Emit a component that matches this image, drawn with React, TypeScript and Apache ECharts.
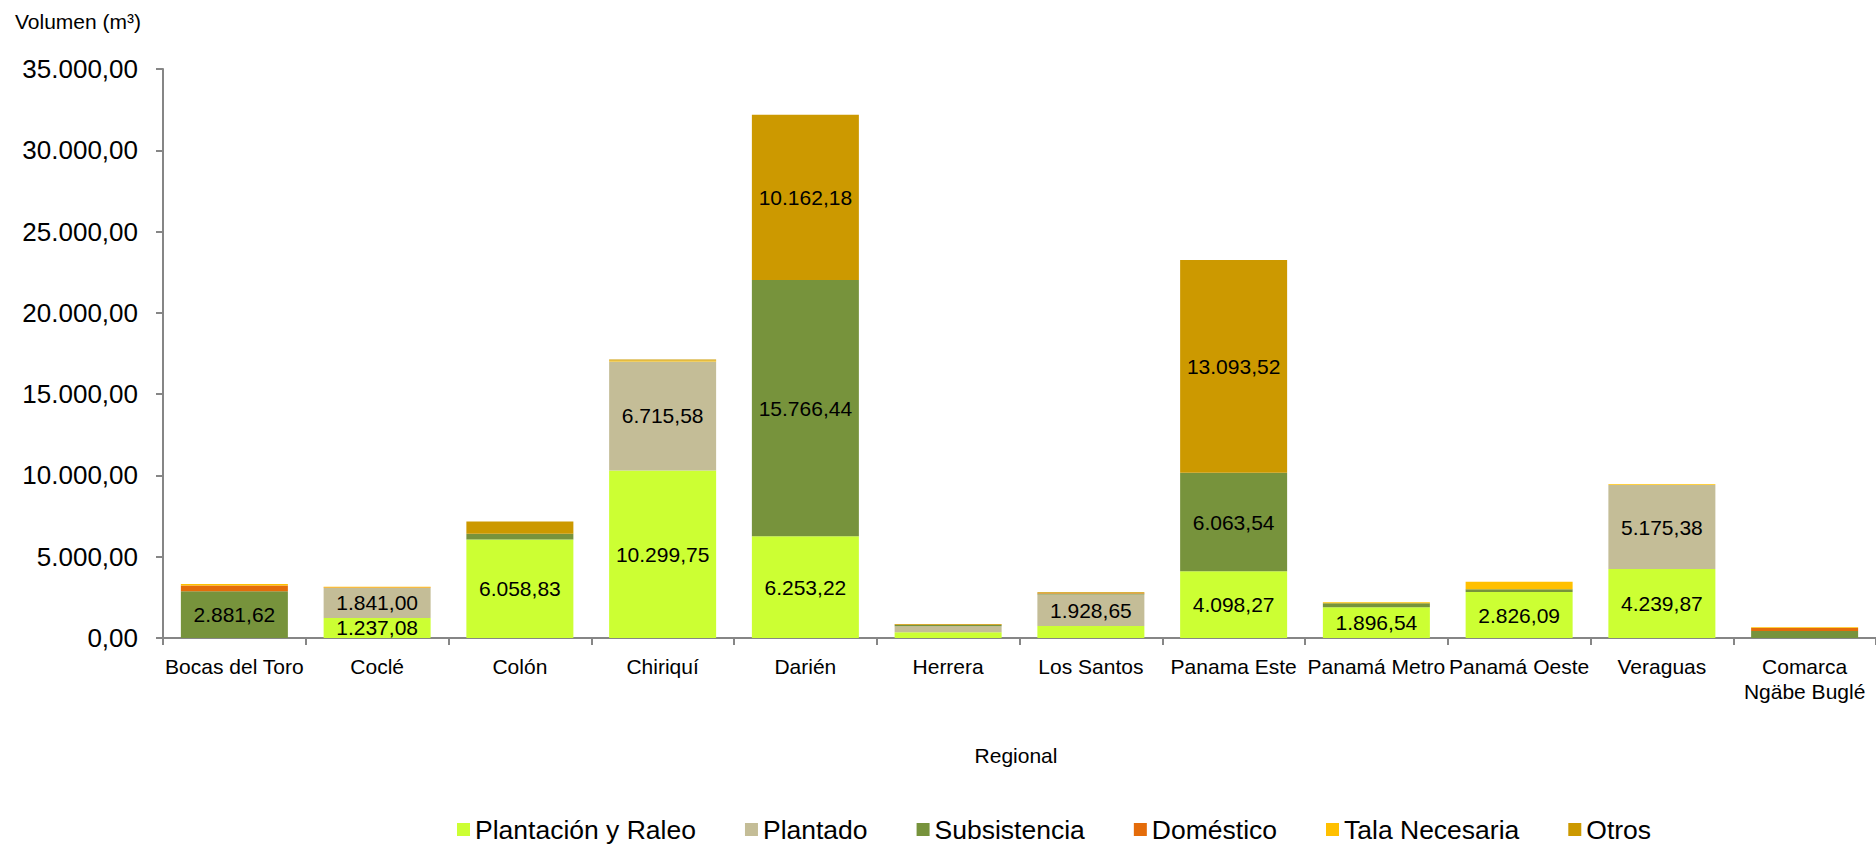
import React, { useEffect, useRef } from "react";
import * as echarts from "echarts";

const categories = [
  "Bocas del Toro",
  "Coclé",
  "Colón",
  "Chiriquí",
  "Darién",
  "Herrera",
  "Los Santos",
  "Panama Este",
  "Panamá Metro",
  "Panamá Oeste",
  "Veraguas",
  "Comarca Ngäbe Buglé",
];

const seriesNames = [
  "Plantación y Raleo",
  "Plantado",
  "Subsistencia",
  "Doméstico",
  "Tala Necesaria",
  "Otros",
];

const plantacionRaleo = [0, 1237.08, 6058.83, 10299.75, 6253.22, 350, 740, 4098.27, 1896.54, 2826.09, 4239.87, 0];
const plantado = [0, 1841.0, 0, 6715.58, 0, 370, 1928.65, 0, 0, 0, 5175.38, 0];
const subsistencia = [2881.62, 0, 360, 0, 15766.44, 80, 60, 6063.54, 240, 180, 0, 430];
const domestico = [350, 30, 0, 0, 0, 20, 30, 0, 0, 0, 0, 190];
const talaNecesaria = [90, 40, 0, 60, 0, 0, 0, 0, 60, 450, 40, 40];
const otros = [0, 0, 750, 50, 10162.18, 40, 50, 13093.52, 0, 0, 0, 0];

const colors = ["#CCFF33", "#C4BD97", "#77933C", "#E46C0A", "#FFC000", "#CC9900"];

const FONT = "'Liberation Sans', Arial, sans-serif";

function fmt(v: number): string {
  const fixed = Math.abs(v).toFixed(2);
  const [intPart, dec] = fixed.split(".");
  const withDots = intPart.replace(/\B(?=(\d{3})+(?!\d))/g, ".");
  return (v < 0 ? "-" : "") + withDots + "," + dec;
}

export default function App() {
  const ref = useRef<HTMLDivElement>(null);

  useEffect(() => {
    if (!ref.current) return;
    const chart = echarts.init(ref.current, undefined, { renderer: "svg" });
    const allData = [plantacionRaleo, plantado, subsistencia, domestico, talaNecesaria, otros];

    const series = allData.map((arr, i) => ({
      name: seriesNames[i],
      type: "bar",
      stack: "total",
      barWidth: 107,
      itemStyle: { color: colors[i] },
      data: arr.map((v) => (v === 0 ? null : v)),
      label: {
        show: true,
        position: "inside",
        color: "#000",
        fontFamily: FONT,
        fontSize: 21,
        formatter: (p: any) => (p.value >= 1000 ? fmt(p.value) : ""),
      },
      emphasis: { disabled: true },
    }));

    chart.setOption({
      animation: false,
      color: colors,
      textStyle: { fontFamily: FONT },
      grid: { left: 163, top: 69, width: 1723, bottom: 209, containLabel: false },
      legend: {
        data: seriesNames,
        left: 452,
        top: 811,
        itemWidth: 13,
        itemHeight: 13,
        itemGap: 49,
        icon: "rect",
        textStyle: { fontFamily: FONT, fontSize: 26.5, color: "#000" },
      },
      xAxis: {
        type: "category",
        data: categories,
        axisLine: { lineStyle: { color: "#868686", width: 2 } },
        axisTick: { show: true, length: 7, lineStyle: { color: "#868686", width: 2 } },
        axisLabel: {
          interval: 0,
          margin: 16,
          color: "#000",
          fontFamily: FONT,
          fontSize: 21,
          lineHeight: 25,
          formatter: (v: string) => v.replace("Comarca ", "Comarca\n"),
        },
        splitLine: { show: false },
      },
      yAxis: {
        type: "value",
        min: 0,
        max: 35000,
        interval: 5000,
        axisLine: { show: true, lineStyle: { color: "#868686", width: 2 } },
        axisTick: { show: true, length: 7, lineStyle: { color: "#868686", width: 2 } },
        axisLabel: {
          margin: 25,
          color: "#000",
          fontFamily: FONT,
          fontSize: 26,
          formatter: (v: number) => fmt(v),
        },
        splitLine: { show: false },
      },
      graphic: [
        {
          type: "text",
          left: 15,
          top: 11,
          style: { text: "Volumen (m³)", fontFamily: FONT, fontSize: 21, fill: "#000" },
        },
        {
          type: "text",
          x: 1016,
          y: 755,
          style: {
            text: "Regional",
            fontFamily: FONT,
            fontSize: 21,
            fill: "#000",
            textAlign: "center",
            textVerticalAlign: "middle",
          },
        },
      ],
      series,
    });

    return () => {
      chart.dispose();
    };
  }, []);

  return (
    <div
      ref={ref}
      style={{ position: "fixed", left: 0, top: 0, width: 1876, height: 847, background: "#fff" }}
    />
  );
}
